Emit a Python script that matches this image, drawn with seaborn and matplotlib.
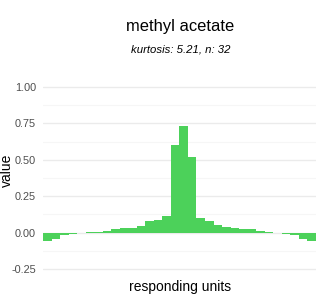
import matplotlib
matplotlib.use("Agg")
import matplotlib.pyplot as plt
import seaborn as sns
import pandas as pd
import numpy as np

units = [f"u{i+1}" for i in range(32)]
values = [-0.055, -0.041, -0.018, -0.007, -0.001, 0.005, 0.005, 0.011,
          0.025, 0.032, 0.032, 0.045, 0.080, 0.086, 0.114, 0.605,
          0.734, 0.516, 0.100, 0.080, 0.052, 0.039, 0.032, 0.025,
          0.025, 0.011, 0.005, -0.001, -0.007, -0.020, -0.041, -0.055]
y_ticks = [-0.25, 0.00, 0.25, 0.50, 0.75, 1.00]
title = "methyl acetate"
subtitle = "kurtosis: 5.21, n: 32"

df = pd.DataFrame({"unit": units, "value": values})

sns.set_theme(style="white")
plt.rcParams["font.family"] = ["Liberation Sans", "DejaVu Sans"]

fig = plt.figure(figsize=(3.2, 3.0), dpi=100)
ax = fig.add_axes([0.134, 0.0733, 0.8535, 0.6667])

sns.barplot(data=df, x="unit", y="value", color="#4cd15a", saturation=1,
            width=1.0, ax=ax, zorder=3, edgecolor="none", linewidth=0)

ax.set_ylim(-0.3125, 1.0625)
ax.set_xlim(-0.53, 31.53)
ax.set_yticks(y_ticks)
ax.set_yticklabels([f"{t:.2f}" for t in y_ticks])
ax.set_yticks([-0.125, 0.125, 0.375, 0.625, 0.875], minor=True)
ax.set_xticks([])
ax.grid(axis="y", which="major", color="#ebebeb", linewidth=1.0, zorder=0)
ax.grid(axis="y", which="minor", color="#f6f6f6", linewidth=0.8, zorder=0)
ax.tick_params(axis="y", which="both", length=0, pad=5, labelsize=7.8, labelcolor="#4d4d4d")
for s in ax.spines.values():
    s.set_visible(False)

ax.set_xlabel("responding units", fontsize=10, color="black")
ax.set_ylabel("value", fontsize=10, color="black")
ax.xaxis.set_label_coords(0.502, -0.008)
ax.yaxis.set_label_coords(-0.13, 0.54)
ax.xaxis.label.set_va("top")
ax.yaxis.label.set_va("center")

fig.text(0.5625, 0.913, title, ha="center", va="center", fontsize=11.9, color="black")
fig.text(0.5656, 0.835, subtitle, ha="center", va="center", fontsize=8.2,
         style="italic", color="black")

fig.savefig("out.png", dpi=100)
